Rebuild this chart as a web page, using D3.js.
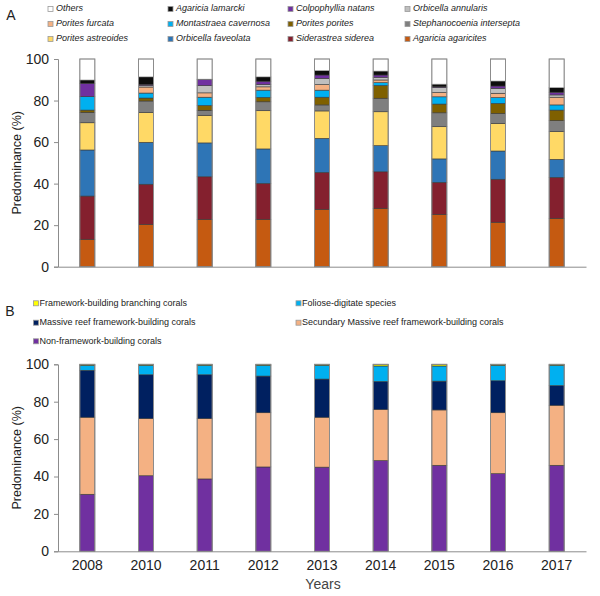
<!DOCTYPE html>
<html><head><meta charset="utf-8">
<script src="https://cdn.jsdelivr.net/npm/d3@7"></script>
<style>
body{margin:0;background:#fff;}
svg{display:block;font-family:"Liberation Sans",Arial,sans-serif;}
</style></head>
<body>
<svg id="chart" width="600" height="596"></svg>
<script>
// ---------- DATA ----------
const years = ["2008","2010","2011","2012","2013","2014","2015","2016","2017"];
const yTicks = [0,20,40,60,80,100];

// Panel A (stack bottom -> top)
const agariciaAgaricites   = [13.2,20.4,22.8,22.8,27.6,28.1,25.2,21.4,23.3];
const siderastreaSiderea   = [20.8,19.3,20.5,17.3,17.8,17.6,15.4,20.7,19.7];
const orbicellaFaveolata   = [22.2,20.2,16.3,16.6,16.4,12.6,11.3,13.6,8.7];
const poritesAstreoides    = [13.1,14.3,13.3,18.4,13.2,16.3,15.5,13.3,13.3];
const stephanocoenia       = [5.0,5.6,2.4,4.3,2.9,6.5,6.7,4.8,5.3];
const poritesPorites       = [1.1,1.4,2.3,2.1,3.7,6.1,4.2,4.8,5.1];
const montastraeaCavernosa = [6.5,2.4,4.0,3.5,3.4,1.4,3.5,2.8,2.5];
const poritesFurcata       = [0.0,2.9,2.1,1.6,2.7,1.3,2.1,2.1,3.7];
const orbicellaAnnularis   = [0.0,0.8,3.5,1.1,3.0,1.3,2.4,2.4,1.1];
const colpophylliaNatans   = [6.4,0.5,2.9,1.6,1.6,1.1,0.3,1.1,1.3];
const agariciaLamarcki     = [1.6,3.6,0.2,2.1,2.1,1.9,1.3,2.4,2.2];
const others               = [10.1,8.6,9.7,8.6,5.6,5.8,12.1,10.6,13.8];

// Panel B (stack bottom -> top)
const nonFramework   = [30.5,40.4,38.7,45.1,45.0,48.5,46.0,41.5,46.0];
const secundary      = [41.2,30.6,32.3,29.0,26.7,27.4,29.6,32.6,32.1];
const massive        = [25.1,23.4,23.4,19.6,20.4,14.9,15.4,17.1,10.5];
const foliose        = [2.7,5.1,5.1,5.8,7.4,8.3,8.1,8.3,10.9];
const branching      = [0.5,0.5,0.5,0.5,0.5,0.9,0.9,0.5,0.5];

const seriesA = [
  {name:"Agaricia agaricites", values:agariciaAgaricites, color:"#C55A11"},
  {name:"Siderastrea siderea", values:siderastreaSiderea, color:"#84202E"},
  {name:"Orbicella faveolata", values:orbicellaFaveolata, color:"#2E75B6"},
  {name:"Porites astreoides", values:poritesAstreoides, color:"#FFD966"},
  {name:"Stephanocoenia intersepta", values:stephanocoenia, color:"#7F7F7F"},
  {name:"Porites porites", values:poritesPorites, color:"#7F6000"},
  {name:"Montastraea cavernosa", values:montastraeaCavernosa, color:"#00B0F0"},
  {name:"Porites furcata", values:poritesFurcata, color:"#F4B183"},
  {name:"Orbicella annularis", values:orbicellaAnnularis, color:"#BFBFBF"},
  {name:"Colpophyllia natans", values:colpophylliaNatans, color:"#7030A0"},
  {name:"Agaricia lamarcki", values:agariciaLamarcki, color:"#0D0D0D"},
  {name:"Others", values:others, color:"#FFFFFF"}
];
const seriesB = [
  {name:"Non-framework-building corals", values:nonFramework, color:"#7030A0"},
  {name:"Secundary Massive reef framework-building corals", values:secundary, color:"#F4B183"},
  {name:"Massive reef framework-building corals", values:massive, color:"#002060"},
  {name:"Foliose-digitate species", values:foliose, color:"#00B0F0"},
  {name:"Framework-building branching corals", values:branching, color:"#FFFF00"}
];
// legend orders
const legendA = ["Others","Agaricia lamarcki","Colpophyllia natans","Orbicella annularis",
  "Porites furcata","Montastraea cavernosa","Porites porites","Stephanocoenia intersepta",
  "Porites astreoides","Orbicella faveolata","Siderastrea siderea","Agaricia agaricites"];
const legendB = ["Framework-building branching corals","Foliose-digitate species",
  "Massive reef framework-building corals","Secundary Massive reef framework-building corals",
  "Non-framework-building corals"];

// ---------- DRAW ----------
const svg = d3.select("#chart");
const x = d3.scaleBand().domain(years).range([58,586]);
const barW = 15;

function panel(series, yTop, yBottom, showX){
  const y = d3.scaleLinear().domain([0,100]).range([yBottom,yTop]);
  const g = svg.append("g");
  const table = years.map((yr,i)=>{const o={year:yr}; series.forEach(s=>o[s.name]=s.values[i]); return o;});
  const stack = d3.stack().keys(series.map(s=>s.name))(table);
  const colorOf = Object.fromEntries(series.map(s=>[s.name,s.color]));
  stack.forEach(layer=>{
    g.append("g").selectAll("rect").data(layer).join("rect")
      .attr("x",d=>x(d.data.year)+x.bandwidth()/2-barW/2)
      .attr("width",barW)
      .attr("y",d=>y(d[1]))
      .attr("height",d=>Math.max(0,y(d[0])-y(d[1])))
      .attr("fill",colorOf[layer.key])
      .attr("stroke",layer.key==="Others"?"#999":"#3a3a3a")
      .attr("stroke-width",0.6);
  });
  // outline
  g.append("g").selectAll("rect").data(years).join("rect")
    .attr("x",d=>x(d)+x.bandwidth()/2-barW/2).attr("width",barW)
    .attr("y",y(100)).attr("height",y(0)-y(100))
    .attr("fill","none").attr("stroke","#8c8c8c").attr("stroke-width",1);

  const ya = g.append("g").attr("transform","translate(58,0)")
    .call(d3.axisLeft(y).tickValues(yTicks).tickSize(4).tickPadding(5));
  ya.select(".domain").attr("stroke","#8c8c8c");
  ya.selectAll(".tick line").attr("stroke","#8c8c8c");
  ya.selectAll("text").attr("font-size",14).attr("fill","#222").attr("font-family","Liberation Sans, Arial");

  const xa = g.append("g").attr("transform",`translate(0,${y(0)})`)
    .call(d3.axisBottom(x).tickSize(0).tickPadding(9).tickSizeOuter(0));
  xa.select(".domain").attr("stroke","#8c8c8c");
  if(showX){
    xa.selectAll("text").attr("font-size",14).attr("fill","#222").attr("font-family","Liberation Sans, Arial");
  } else xa.selectAll("text").remove();

  g.append("text").attr("transform",`translate(18,${(y(0)+y(100))/2}) rotate(-90)`)
    .attr("text-anchor","middle").attr("dominant-baseline","middle")
    .attr("font-size",12.5).attr("fill","#222").text("Predominance (%)");
  return colorOf;
}

const colA = panel(seriesA, 59, 266.7, false);
const colB = panel(seriesB, 364.3, 551.3, true);

svg.append("text").attr("x",323).attr("y",589).attr("text-anchor","middle")
  .attr("font-size",14).attr("fill","#444").text("Years");

// Legend A
svg.append("text").attr("x",11).attr("y",16).attr("text-anchor","middle").attr("dominant-baseline","middle")
  .attr("font-size",14).attr("fill","#222").text("A");
const colXA = [48,168,288,405];
const rowYA = [9,24,39];
legendA.forEach((name,i)=>{
  const cx = colXA[i%4], cy = rowYA[Math.floor(i/4)];
  svg.append("rect").attr("x",cx).attr("y",cy-2.5).attr("width",5).attr("height",5)
    .attr("fill",colA[name]).attr("stroke","#999").attr("stroke-width",0.8);
  svg.append("text").attr("x",cx+8).attr("y",cy).attr("dominant-baseline","middle")
    .attr("font-size",9).attr("font-style","italic").attr("fill","#222").text(name);
});

// Legend B
svg.append("text").attr("x",10).attr("y",312).attr("text-anchor","middle").attr("dominant-baseline","middle")
  .attr("font-size",14).attr("fill","#222").text("B");
const colXB = [33.5,296];
const rowYB = [303.3,322.7,341.3];
legendB.forEach((name,i)=>{
  const cx = colXB[i%2], cy = rowYB[Math.floor(i/2)];
  svg.append("rect").attr("x",cx).attr("y",cy-2.5).attr("width",5).attr("height",5)
    .attr("fill",colB[name]).attr("stroke","#999").attr("stroke-width",0.8);
  svg.append("text").attr("x",cx+6).attr("y",cy).attr("dominant-baseline","middle")
    .attr("font-size",9).attr("fill","#222").text(name);
});
</script>
</body></html>
